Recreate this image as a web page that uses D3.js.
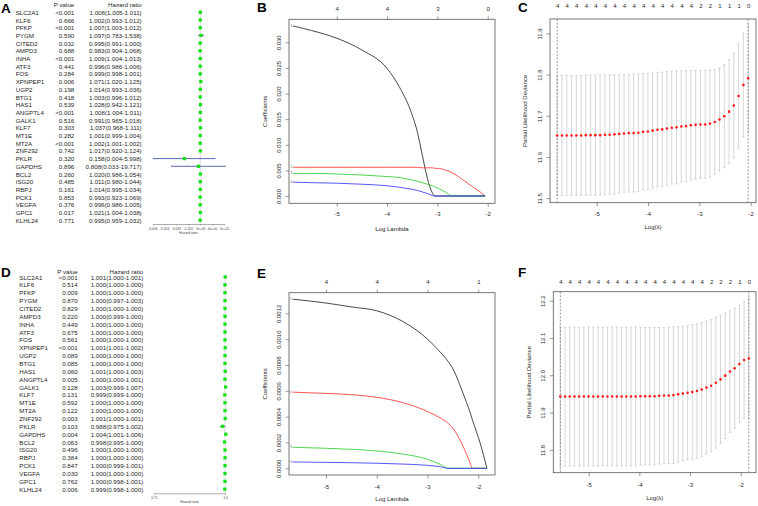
<!DOCTYPE html>
<html><head><meta charset="utf-8">
<script src="https://cdn.jsdelivr.net/npm/d3@7"></script>
<style>body{margin:0;background:#fff}svg{display:block}</style>
</head><body><svg id="c" width="758" height="506"></svg>
<script>
// ---------------- DATA ----------------
const genes = ["SLC2A1","KLF6","PFKP","PYGM","CITED2","AMPD3","INHA","ATF3","FOS","XPNPEP1","UGP2","BTG1","HAS1","ANGPTL4","GALK1","KLF7","MT1E","MT2A","ZNF292","PKLR","GAPDHS","BCL2","ISG20","RBPJ","PCK1","VEGFA","GPC1","KLHL24"];
// Panel A (univariate Cox, training)
const pA  = ["<0.001","0.666","<0.001","0.590","0.032","0.688","<0.001","0.441","0.284","0.006","0.198","0.418","0.539","<0.001","0.516","0.303","0.282","<0.001","0.742","0.320","0.896","0.260","0.485","0.161","0.853","0.376","0.017","0.771"];
const hrA = [1.008,1.002,1.007,1.097,0.995,0.983,1.009,0.996,0.999,1.071,1.014,1.003,1.028,1.008,0.991,1.037,1.001,1.002,1.017,0.158,0.808,1.020,1.011,1.014,0.993,0.996,1.021,0.995];
const loA = [1.005,0.993,1.003,0.783,0.991,0.904,1.004,0.986,0.998,1.020,0.993,0.996,0.942,1.004,0.965,0.968,0.999,1.001,0.920,0.004,0.033,0.986,0.980,0.995,0.923,0.986,1.004,0.959];
const hiA = [1.011,1.012,1.012,1.538,1.000,1.068,1.013,1.006,1.001,1.125,1.036,1.012,1.121,1.011,1.018,1.111,1.004,1.002,1.124,5.998,19.717,1.054,1.044,1.034,1.069,1.005,1.038,1.032];
const ticksA = [0.00390625,0.015625,0.0625,0.25,1,4,16];
const tickLabA = ["0.004","0.016","0.062","0.250","1e+00","4e+00","2e+01"];
// Panel D
const pD  = ["<0.001","0.514","0.009","0.870","0.829","0.220","0.449","0.675","0.561","<0.001","0.089","0.085","0.060","0.005","0.128","0.131","0.592","0.122","0.003","0.103","0.004","0.063","0.496","0.384","0.847","0.030","0.762","0.006"];
const hrD = [1.001,1.000,1.000,1.000,1.000,1.000,1.000,1.000,1.000,1.001,1.000,1.000,1.001,1.000,1.003,0.999,1.000,1.000,1.001,0.988,1.004,0.998,1.000,1.000,1.000,1.000,1.000,0.999];
const loD = [1.000,1.000,1.000,0.997,1.000,0.999,1.000,1.000,1.000,1.001,1.000,1.000,1.000,1.000,0.999,0.999,1.000,1.000,1.000,0.975,1.001,0.995,1.000,1.000,0.999,1.000,0.998,0.998];
const hiD = [1.001,1.000,1.000,1.003,1.000,1.000,1.000,1.000,1.000,1.002,1.000,1.000,1.003,1.001,1.007,1.000,1.000,1.000,1.001,1.002,1.006,1.000,1.000,1.000,1.001,1.000,1.001,1.000];
const ticksD = [0.71,1.0];
const tickLabD = ["0.71","1.0"];

// Panel B (coefficient paths)
const lamB   = [-5.87,-5.5,-5.0,-4.5,-4.0,-3.75,-3.5,-3.4,-3.3,-3.2,-3.1,-3.05,-3.0,-2.85,-2.7,-2.5,-2.3,-2.15,-2.05];
const coefB1 = [0.0332,0.0323,0.0308,0.0285,0.0249,0.0212,0.0158,0.0126,0.0080,0.0035,0.0006,0,0,0,0,0,0,0,0];
const coefB2 = [0.0056,0.0056,0.0056,0.0056,0.0056,0.0056,0.0056,0.0056,0.0055,0.0055,0.0055,0.0054,0.0054,0.0051,0.0045,0.0032,0.0018,0.0008,0];
const coefB3 = [0.0044,0.0044,0.0043,0.0041,0.0038,0.0036,0.0031,0.0029,0.0026,0.0023,0.0020,0.0018,0.0016,0.0008,0,0,0,0,0];
const coefB4 = [0.0027,0.0026,0.0025,0.0023,0.0020,0.0017,0.0013,0.0011,0.0008,0.0005,0.0001,0,0,0,0,0,0,0,0];
const dfTickB = [-5,-4,-3,-2];
const dfLabB  = ["4","4","3","0"];

// Panel E
const lamE   = [-5.66,-5.0,-4.5,-4.0,-3.5,-3.0,-2.75,-2.6,-2.5,-2.3,-2.16,-2.12,-1.96,-1.83];
const coefE1 = [0.00131,0.00128,0.00125,0.00122,0.00114,0.00100,0.00090,0.00083,0.00077,0.00058,0.00043,0.00038,0.00019,0];
const coefE2 = [0.00059,0.00058,0.00057,0.00055,0.00051,0.00044,0.00039,0.00035,0.00031,0.00017,0.00004,0,0,0];
const coefE3 = [0.000163,0.000155,0.000147,0.000134,0.000111,0.00007,0.00003,0,0,0,0,0,0,0];
const coefE4 = [0.000049,0.000046,0.000043,0.000039,0.000033,0.000023,0.000012,0,0,0,0,0,0,0];
const dfTickE = [-5,-4,-3,-2];
const dfLabE  = ["4","4","4","1"];

// Panel C (cross-validation)
const lamC = [-5.770,-5.677,-5.584,-5.491,-5.398,-5.305,-5.212,-5.119,-5.026,-4.933,-4.840,-4.747,-4.654,-4.561,-4.468,-4.375,-4.282,-4.189,-4.096,-4.003,-3.910,-3.817,-3.724,-3.631,-3.538,-3.445,-3.352,-3.259,-3.166,-3.073,-2.980,-2.887,-2.794,-2.701,-2.608,-2.515,-2.422,-2.329,-2.236,-2.143,-2.050];
const cvmC = [11.652,11.652,11.652,11.652,11.652,11.652,11.653,11.653,11.653,11.653,11.654,11.654,11.655,11.656,11.657,11.658,11.658,11.659,11.661,11.662,11.664,11.666,11.667,11.669,11.671,11.672,11.674,11.675,11.677,11.678,11.679,11.679,11.681,11.685,11.691,11.699,11.710,11.725,11.748,11.775,11.791];
const cvupC = [11.798,11.798,11.798,11.798,11.798,11.798,11.799,11.799,11.799,11.799,11.799,11.800,11.800,11.800,11.800,11.801,11.801,11.802,11.802,11.803,11.804,11.805,11.806,11.807,11.808,11.809,11.809,11.810,11.810,11.810,11.810,11.810,11.811,11.812,11.816,11.824,11.836,11.852,11.874,11.901,11.923];
const cvloC = [11.506,11.506,11.506,11.506,11.506,11.506,11.507,11.507,11.507,11.507,11.508,11.509,11.510,11.512,11.514,11.515,11.515,11.516,11.520,11.521,11.524,11.527,11.528,11.531,11.534,11.535,11.539,11.540,11.544,11.546,11.548,11.548,11.551,11.558,11.566,11.574,11.584,11.598,11.622,11.649,11.659];
const nzLabC = ["4","4","4","4","4","4","4","4","4","4","4","4","4","4","4","2","2","1","1","1","0"];

// Panel F
const lamF = [-5.560,-5.467,-5.374,-5.281,-5.188,-5.095,-5.002,-4.909,-4.816,-4.723,-4.630,-4.537,-4.444,-4.351,-4.258,-4.165,-4.072,-3.979,-3.886,-3.793,-3.700,-3.607,-3.514,-3.421,-3.328,-3.235,-3.142,-3.049,-2.956,-2.863,-2.770,-2.677,-2.584,-2.491,-2.398,-2.305,-2.212,-2.119,-2.026,-1.933,-1.840];
const cvmF = [11.943,11.943,11.943,11.943,11.943,11.943,11.943,11.943,11.943,11.943,11.943,11.943,11.943,11.943,11.943,11.943,11.943,11.944,11.944,11.944,11.944,11.945,11.946,11.946,11.947,11.949,11.951,11.953,11.955,11.958,11.962,11.967,11.972,11.980,11.989,11.999,12.010,12.019,12.030,12.041,12.045];
const cvupF = [12.129,12.129,12.129,12.129,12.129,12.129,12.129,12.129,12.129,12.129,12.129,12.129,12.129,12.129,12.129,12.129,12.129,12.129,12.128,12.128,12.128,12.128,12.128,12.129,12.130,12.130,12.131,12.133,12.136,12.138,12.141,12.145,12.149,12.155,12.161,12.167,12.173,12.180,12.187,12.197,12.206];
const cvloF = [11.757,11.757,11.757,11.757,11.757,11.757,11.757,11.757,11.757,11.757,11.757,11.757,11.757,11.757,11.757,11.757,11.757,11.759,11.760,11.760,11.760,11.762,11.764,11.763,11.764,11.768,11.771,11.773,11.774,11.778,11.783,11.789,11.795,11.805,11.817,11.831,11.847,11.858,11.873,11.885,11.884];
const nzLabF = ["4","4","4","4","4","4","4","4","4","4","4","4","4","4","4","4","2","2","2","1","0"];

// ---------------- DRAWING ----------------
const FONT = '"Liberation Sans", Arial, Helvetica, sans-serif';
const svg = d3.select("#c").attr("font-family", FONT);
const INK = "#262626";

function letter(t, x, y) {
  svg.append("text").attr("x", x).attr("y", y).attr("font-size", 13.5)
    .attr("font-weight", "bold").attr("fill", "#000").text(t);
}

function forest(cfg, pv, hr, lo, hi, ticks, tickLabs) {
  const g = svg.append("g").attr("fill", INK);
  const y = d3.scalePoint().domain(genes).range([cfg.y0, cfg.y0 + cfg.dy * (genes.length - 1)]);
  const fs = 6.2;
  g.append("text").attr("x", cfg.pRight).attr("y", cfg.hy).attr("text-anchor", "end")
    .attr("font-size", fs).attr("dominant-baseline", "central").text("P value");
  g.append("text").attr("x", cfg.hrRight).attr("y", cfg.hy).attr("text-anchor", "end")
    .attr("font-size", fs).attr("dominant-baseline", "central").text("Hazard ratio");
  const rows = g.selectAll("g.row").data(genes).join("g").attr("class", "row")
    .attr("transform", d => `translate(0,${y(d)})`);
  rows.append("text").attr("x", cfg.geneX).attr("font-size", fs).attr("dominant-baseline", "central").text(d => d);
  rows.append("text").attr("x", cfg.pRight).attr("text-anchor", "end").attr("font-size", fs)
    .attr("dominant-baseline", "central").text((d, i) => pv[i]);
  rows.append("text").attr("x", cfg.hrRight).attr("text-anchor", "end").attr("font-size", fs)
    .attr("dominant-baseline", "central")
    .text((d, i) => `${hr[i].toFixed(3)}(${lo[i].toFixed(3)}-${hi[i].toFixed(3)})`);

  const x = d3.scaleLog().domain(cfg.dom).range(cfg.xr);
  g.append("line").attr("x1", x(1)).attr("x2", x(1)).attr("y1", cfg.y0 - 3).attr("y2", cfg.axisY)
    .attr("stroke", "#b0b0b0").attr("stroke-width", 0.5);
  genes.forEach((gn, i) => {
    g.append("line").attr("x1", x(lo[i])).attr("x2", x(hi[i])).attr("y1", y(gn)).attr("y2", y(gn))
      .attr("stroke", "#4b55b8").attr("stroke-width", 0.9);
  });
  const s = 3.3;
  g.selectAll("rect.pt").data(genes).join("rect").attr("class", "pt")
    .attr("x", (d, i) => x(hr[i]) - s / 2).attr("y", d => y(d) - s / 2)
    .attr("width", s).attr("height", s).attr("fill", "#16e016");

  const ax = d3.axisBottom(x).tickValues(ticks).tickFormat((d, i) => tickLabs[i]).tickSize(1.5).tickSizeOuter(0);
  const axg = g.append("g").attr("transform", `translate(0,${cfg.axisY})`).call(ax);
  axg.attr("font-family", null).attr("font-size", null);
  axg.select(".domain").attr("stroke", "#777").attr("stroke-width", 0.6);
  axg.selectAll(".tick line").attr("stroke", "#777").attr("stroke-width", 0.5);
  axg.selectAll(".tick text").attr("font-size", 3.4).attr("fill", "#444").attr("y", 5).attr("dy", "0.35em");
  g.append("text").attr("x", (cfg.xr[0] + cfg.xr[1]) / 2).attr("y", cfg.axisY + 9.5)
    .attr("text-anchor", "middle").attr("font-size", 3.4).attr("fill", "#444").text("Hazard ratio");
}

function frame(cfg) {
  const g = svg.append("g");
  const x = d3.scaleLinear().domain(cfg.xdom).range([cfg.L, cfg.R]);
  const y = d3.scaleLinear().domain(cfg.ydom).range([cfg.B, cfg.T]);
  const bx = g.append("g").attr("transform", `translate(0,${cfg.B})`)
    .call(d3.axisBottom(x).tickValues([-5, -4, -3, -2]).tickFormat(d => String(d)).tickSize(3.5).tickSizeOuter(0));
  bx.attr("font-family", null).attr("font-size", null);
  bx.select(".domain").remove();
  bx.selectAll(".tick line").attr("stroke", "#555").attr("stroke-width", 0.6);
  bx.selectAll(".tick text").attr("font-size", 6).attr("fill", INK).attr("y", cfg.bOff).attr("dy", "0.35em");
  const ly = g.append("g").attr("transform", `translate(${cfg.L},0)`)
    .call(d3.axisLeft(y).tickValues(cfg.yticks).tickFormat(d3.format(cfg.yfmt)).tickSize(3.5).tickSizeOuter(0));
  ly.attr("font-family", null).attr("font-size", null);
  ly.select(".domain").remove();
  ly.selectAll(".tick line").attr("stroke", "#555").attr("stroke-width", 0.6);
  ly.selectAll(".tick text").attr("font-size", 6).attr("fill", INK).attr("x", 0).attr("dy", null)
    .attr("text-anchor", "middle").attr("dominant-baseline", "central")
    .attr("transform", `translate(${-cfg.lOff},0) rotate(-90)`);
  g.append("text").attr("x", (cfg.L + cfg.R) / 2).attr("y", cfg.xTitleY).attr("text-anchor", "middle")
    .attr("dominant-baseline", "central").attr("font-size", 6).attr("fill", INK).text(cfg.xTitle);
  g.append("text").attr("transform", `translate(${cfg.yTitleX},${(cfg.T + cfg.B) / 2}) rotate(-90)`)
    .attr("text-anchor", "middle").attr("dominant-baseline", "central").attr("font-size", 6)
    .attr("fill", INK).text(cfg.yTitle);
  return { g, x, y };
}

function boxRect(g, cfg) {
  g.append("rect").attr("x", cfg.L).attr("y", cfg.T).attr("width", cfg.R - cfg.L).attr("height", cfg.B - cfg.T)
    .attr("fill", "none").attr("stroke", "#555").attr("stroke-width", 0.8);
}

function coefPanel(cfg, lam, series, dfTicks, dfLabs) {
  const { g, x, y } = frame(cfg);
  const tx = g.append("g").attr("transform", `translate(0,${cfg.T})`)
    .call(d3.axisTop(x).tickValues(dfTicks).tickFormat((d, i) => dfLabs[i]).tickSize(3).tickSizeOuter(0));
  tx.attr("font-family", null).attr("font-size", null);
  tx.select(".domain").remove();
  tx.selectAll(".tick line").attr("stroke", "#555").attr("stroke-width", 0.6);
  tx.selectAll(".tick text").attr("font-size", 6).attr("fill", INK).attr("y", -cfg.tOff).attr("dy", "0.35em");
  const colors = ["#1a1a1a", "#ff2a2a", "#22cc22", "#2a2aff"];
  const line = d3.line().x((d, i) => x(lam[i])).y(d => y(d)).curve(d3.curveMonotoneX);
  series.forEach((s, k) => {
    g.append("path").attr("d", line(s)).attr("fill", "none").attr("stroke", colors[k]).attr("stroke-width", 0.8);
    g.append("text").attr("x", x(lam[0]) - 0.8).attr("y", y(s[0])).attr("text-anchor", "end")
      .attr("dominant-baseline", "central").attr("font-size", 3).attr("fill", "#555").text(String(k + 1));
  });
  boxRect(g, cfg);
}

function cvPanel(cfg, lam, cvm, cvup, cvlo, nzLabs) {
  const { g, x, y } = frame(cfg);
  const top = lam.filter((d, i) => i % 2 === 0);
  const tx = g.append("g").attr("transform", `translate(0,${cfg.T})`)
    .call(d3.axisTop(x).tickValues(top).tickFormat((d, i) => nzLabs[i]).tickSize(0).tickSizeOuter(0));
  tx.attr("font-family", null).attr("font-size", null);
  tx.select(".domain").remove();
  tx.selectAll(".tick text").attr("font-size", 6).attr("fill", INK).attr("y", -cfg.tOff).attr("dy", "0.35em");
  const eb = g.append("g").attr("stroke", "#c4c4c4").attr("stroke-width", 0.7);
  lam.forEach((l, i) => {
    eb.append("line").attr("x1", x(l)).attr("x2", x(l)).attr("y1", y(cvlo[i])).attr("y2", y(cvup[i]));
    eb.append("line").attr("x1", x(l) - 1.2).attr("x2", x(l) + 1.2).attr("y1", y(cvlo[i])).attr("y2", y(cvlo[i]));
    eb.append("line").attr("x1", x(l) - 1.2).attr("x2", x(l) + 1.2).attr("y1", y(cvup[i])).attr("y2", y(cvup[i]));
  });
  [lam[0], lam[lam.length - 1]].forEach(l => {
    g.append("line").attr("x1", x(l)).attr("x2", x(l)).attr("y1", cfg.T).attr("y2", cfg.B)
      .attr("stroke", "#555").attr("stroke-width", 0.6).attr("stroke-dasharray", "2,1.5");
  });
  g.selectAll("circle.cv").data(cvm).join("circle").attr("class", "cv")
    .attr("cx", (d, i) => x(lam[i])).attr("cy", d => y(d)).attr("r", 1.3).attr("fill", "#ff1a1a");
  boxRect(g, cfg);
}

// Panel A
letter("A", 1, 13);
forest({ y0: 12.3, dy: 7.7, hy: 4.3, geneX: 15.7, pRight: 74.3, hrRight: 141.7,
         dom: [0.00390625, 16], xr: [152.7, 224], axisY: 224 }, pA, hrA, loA, hiA, ticksA, tickLabA);
// Panel D
letter("D", 1, 276.5);
forest({ y0: 277, dy: 7.86, hy: 271, geneX: 19.3, pRight: 77.7, hrRight: 143.3,
         dom: [0.71, 1.0], xr: [154, 225], axisY: 493.3 }, pD, hrD, loD, hiD, ticksD, tickLabD);

// Panel B
letter("B", 257, 12);
coefPanel({ L: 289, R: 495, T: 19.3, B: 203.3, xdom: [-5.948, -1.855], ydom: [-0.001425, 0.03449],
            yticks: [0, 0.005, 0.01, 0.015, 0.02, 0.025, 0.03], yfmt: ".3f", bOff: 11, lOff: 9.7, tOff: 10.3,
            xTitle: "Log Lambda", xTitleY: 229.3, yTitle: "Coefficients", yTitleX: 265 },
          lamB, [coefB1, coefB2, coefB3, coefB4], dfTickB, dfLabB);
// Panel E
letter("E", 257, 277.5);
coefPanel({ L: 289, R: 495, T: 292.7, B: 475, xdom: [-5.729, -1.671], ydom: [-0.0000519, 0.00136],
            yticks: [0, 0.0002, 0.0004, 0.0006, 0.0008, 0.001, 0.0012], yfmt: ".4f", bOff: 12.3, lOff: 9.7, tOff: 10.4,
            xTitle: "Log Lambda", xTitleY: 499.3, yTitle: "Coefficients", yTitleX: 265 },
          lamE, [coefE1, coefE2, coefE3, coefE4], dfTickE, dfLabE);
// Panel C
letter("C", 518, 12);
cvPanel({ L: 550, R: 756, T: 19, B: 202.7, xdom: [-5.91, -1.897], ydom: [11.489, 11.935],
          yticks: [11.5, 11.6, 11.7, 11.8, 11.9], yfmt: ".1f", bOff: 11.6, lOff: 10, tOff: 13,
          xTitle: "Log(\u03bb)", xTitleY: 226.7, yTitle: "Partial Likelihood Deviance", yTitleX: 525 },
        lamC, cvmC, cvupC, cvloC, nzLabC);
// Panel F
letter("F", 518, 277);
cvPanel({ L: 553.3, R: 756, T: 291.7, B: 472.7, xdom: [-5.699, -1.698], ydom: [11.739, 12.224],
          yticks: [11.8, 11.9, 12.0, 12.1, 12.2], yfmt: ".1f", bOff: 12.3, lOff: 10, tOff: 9.4,
          xTitle: "Log(\u03bb)", xTitleY: 497.7, yTitle: "Partial Likelihood Deviance", yTitleX: 529.3 },
        lamF, cvmF, cvupF, cvloF, nzLabF);
</script>
</body></html>
